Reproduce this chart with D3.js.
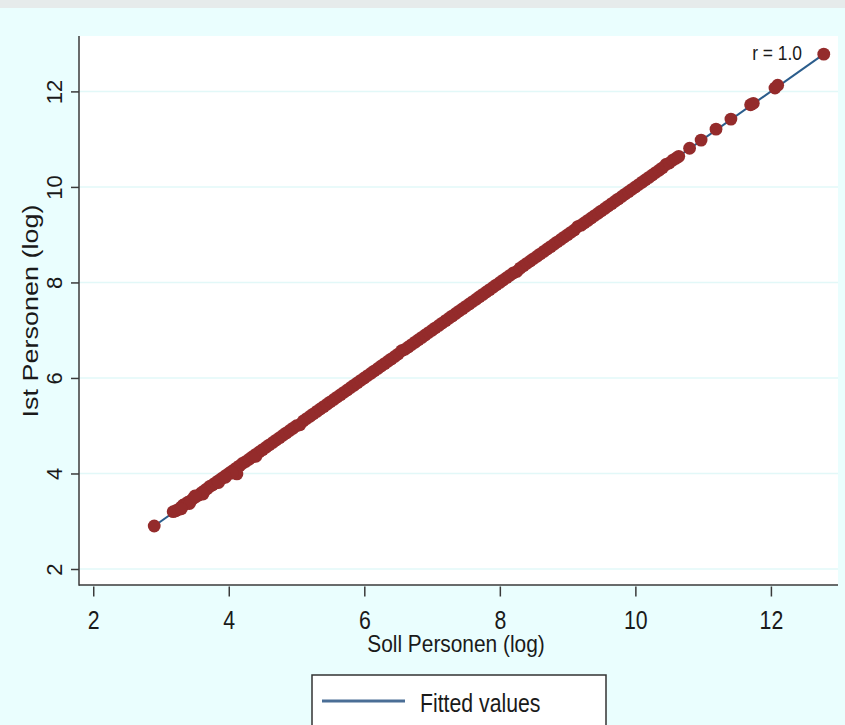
<!DOCTYPE html>
<html>
<head>
<meta charset="utf-8">
<script src="https://cdn.jsdelivr.net/npm/d3@7"></script>
<style>
  html, body { margin: 0; padding: 0; background: #eafefe; }
  svg { display: block; }
  text { font-family: "Liberation Sans", Arial, Helvetica, sans-serif; fill: #1a1a1a; }
</style>
</head>
<body>
<script>
// ---- data ----
const sollPersonen = [
  2.90,
  3.18, 3.22, 3.26, 3.30, 3.33, 3.36, 3.40, 3.44, 3.48, 3.52, 3.56, 3.60, 3.64, 3.68, 3.72, 3.76,
  3.80, 3.84, 3.88, 3.92, 3.96, 4.00, 4.04, 4.08, 4.12, 4.16, 4.20, 4.25, 4.30, 4.35, 4.40, 4.45,
  3.42, 3.62, 3.85, 4.12, 4.05, 4.40, 3.30, 3.50, 3.95,
  4.50, 4.55, 4.60, 4.65, 4.70, 4.75, 4.80, 4.85, 4.90, 4.95,
  5.00, 5.05, 5.10, 5.15, 5.20, 5.25, 5.30, 5.35, 5.40, 5.45,
  5.50, 5.55, 5.60, 5.65, 5.70, 5.75, 5.80, 5.85, 5.90, 5.95,
  6.00, 6.05, 6.10, 6.15, 6.20, 6.25, 6.30, 6.35, 6.40, 6.45,
  6.50, 6.55, 6.60, 6.65, 6.70, 6.75, 6.80, 6.85, 6.90, 6.95,
  7.00, 7.05, 7.10, 7.15, 7.20, 7.25, 7.30, 7.35, 7.40, 7.45,
  7.50, 7.55, 7.60, 7.65, 7.70, 7.75, 7.80, 7.85, 7.90, 7.95,
  8.00, 8.05, 8.10, 8.15, 8.20, 8.25, 8.30, 8.35, 8.40, 8.45,
  8.50, 8.55, 8.60, 8.65, 8.70, 8.75, 8.80, 8.85, 8.90, 8.95,
  9.00, 9.05, 9.10, 9.15, 9.20, 9.25, 9.30, 9.35, 9.40, 9.45,
  9.50, 9.55, 9.60, 9.65, 9.70, 9.75, 9.80, 9.85, 9.90, 9.95,
  10.00, 10.05, 10.10, 10.15, 10.20, 10.25, 10.30, 10.35, 10.40, 10.45,
  10.50, 10.55, 10.60, 10.64,
  10.80, 10.97, 11.19, 11.41, 11.70, 11.74, 12.06, 12.10, 12.78
];
const istPersonen = [
  2.90,
  3.20, 3.22, 3.25, 3.30, 3.34, 3.36, 3.40, 3.43, 3.48, 3.52, 3.55, 3.60, 3.64, 3.68, 3.73, 3.76,
  3.80, 3.84, 3.88, 3.92, 3.96, 4.00, 4.04, 4.08, 4.12, 4.16, 4.21, 4.25, 4.30, 4.35, 4.40, 4.45,
  3.37, 3.57, 3.81, 3.99, 4.01, 4.36, 3.26, 3.53, 3.92,
  4.50, 4.55, 4.60, 4.65, 4.70, 4.75, 4.80, 4.85, 4.90, 4.95,
  5.00, 5.02, 5.10, 5.15, 5.20, 5.25, 5.30, 5.35, 5.40, 5.45,
  5.50, 5.55, 5.60, 5.65, 5.70, 5.75, 5.80, 5.85, 5.90, 5.95,
  6.00, 6.05, 6.10, 6.15, 6.20, 6.25, 6.30, 6.35, 6.40, 6.45,
  6.50, 6.57, 6.60, 6.65, 6.70, 6.75, 6.80, 6.85, 6.90, 6.95,
  7.00, 7.05, 7.10, 7.15, 7.20, 7.25, 7.30, 7.35, 7.40, 7.45,
  7.50, 7.55, 7.60, 7.65, 7.70, 7.75, 7.80, 7.85, 7.90, 7.95,
  8.00, 8.05, 8.10, 8.15, 8.20, 8.23, 8.30, 8.35, 8.40, 8.45,
  8.50, 8.55, 8.60, 8.65, 8.70, 8.75, 8.80, 8.85, 8.90, 8.95,
  9.00, 9.05, 9.10, 9.17, 9.20, 9.25, 9.30, 9.35, 9.40, 9.45,
  9.50, 9.55, 9.60, 9.65, 9.70, 9.75, 9.80, 9.85, 9.90, 9.95,
  10.00, 10.05, 10.10, 10.15, 10.20, 10.25, 10.30, 10.35, 10.40, 10.47,
  10.50, 10.56, 10.60, 10.64,
  10.81, 10.98, 11.21, 11.42, 11.72, 11.75, 12.07, 12.13, 12.78
];
const fittedX = [2.90, 12.78];
const fittedY = [2.90, 12.78];
const xTicks = [2, 4, 6, 8, 10, 12];
const yTicks = [2, 4, 6, 8, 10, 12];
const xTitle = "Soll Personen (log)";
const yTitle = "Ist Personen (log)";
const legendLabel = "Fitted values";
const annotation = "r = 1.0";

// ---- layout ----
const W = 845, H = 725;
const plot = { left: 79, right: 838, top: 36, bottom: 585 };

const svg = d3.select("body").append("svg").attr("width", W).attr("height", H);

svg.append("rect").attr("x", 0).attr("y", 0).attr("width", W).attr("height", H).attr("fill", "#eafefe");
svg.append("rect").attr("x", 0).attr("y", 0).attr("width", W).attr("height", 8).attr("fill", "#e6ebeb");

const x = d3.scaleLinear().domain([1.79, 12.99]).range([plot.left, plot.right]);
const y = d3.scaleLinear().domain([1.665, 13.16]).range([plot.bottom, plot.top]);

// plot region
svg.append("rect")
  .attr("x", plot.left).attr("y", plot.top)
  .attr("width", plot.right - plot.left).attr("height", plot.bottom - plot.top)
  .attr("fill", "#ffffff");

// grid lines
svg.append("g").selectAll("line").data(yTicks).join("line")
  .attr("x1", plot.left).attr("x2", plot.right)
  .attr("y1", d => y(d)).attr("y2", d => y(d))
  .attr("stroke", "#e2f8f8").attr("stroke-width", 1.5);

// fitted line (under markers)
const lineData = fittedX.map((v, i) => [v, fittedY[i]]);
svg.append("path")
  .datum(lineData)
  .attr("d", d3.line().x(d => x(d[0])).y(d => y(d[1])))
  .attr("stroke", "#2b5d8c").attr("stroke-width", 2).attr("fill", "none");

// markers
const pts = sollPersonen.map((v, i) => [v, istPersonen[i]]);
svg.append("g").selectAll("circle").data(pts).join("circle")
  .attr("cx", d => x(d[0])).attr("cy", d => y(d[1]))
  .attr("r", 6.4)
  .attr("fill", "#942b2b");

// axes lines
svg.append("line").attr("x1", plot.left).attr("x2", plot.left)
  .attr("y1", plot.top).attr("y2", plot.bottom + 0.75)
  .attr("stroke", "#3a3a3a").attr("stroke-width", 1.5);
svg.append("line").attr("x1", plot.left).attr("x2", plot.right)
  .attr("y1", plot.bottom).attr("y2", plot.bottom)
  .attr("stroke", "#3a3a3a").attr("stroke-width", 1.5);

// x axis ticks + labels
const xAxis = d3.axisBottom(x).tickValues(xTicks).tickSize(10).tickSizeOuter(0).tickFormat(d3.format("d"));
const gx = svg.append("g").attr("transform", `translate(0,${plot.bottom + 1.5})`).call(xAxis);
gx.select(".domain").remove();
gx.selectAll(".tick line").attr("stroke", "#3a3a3a").attr("stroke-width", 1.5);
gx.selectAll(".tick text")
  .attr("y", null).attr("dy", null)
  .attr("transform", "translate(0,42) scale(0.82,1)")
  .attr("font-size", 26).attr("fill", "#1a1a1a")
  .attr("font-family", "'Liberation Sans', Arial, sans-serif");

// y axis ticks + labels
const yAxis = d3.axisLeft(y).tickValues(yTicks).tickSize(8).tickSizeOuter(0).tickFormat(d3.format("d"));
const gy = svg.append("g").attr("transform", `translate(${plot.left},0)`).call(yAxis);
gy.select(".domain").remove();
gy.selectAll(".tick line").attr("stroke", "#3a3a3a").attr("stroke-width", 1.5);
gy.selectAll(".tick text")
  .attr("x", null).attr("dy", null)
  .attr("text-anchor", "middle")
  .attr("transform", "translate(-17,0) rotate(-90)")
  .attr("font-size", 22).attr("fill", "#1a1a1a")
  .attr("font-family", "'Liberation Sans', Arial, sans-serif");

// axis titles
svg.append("text")
  .attr("transform", "translate(456,652) scale(0.87,1)")
  .attr("text-anchor", "middle").attr("font-size", 24)
  .text(xTitle);
svg.append("text")
  .attr("transform", "translate(38,311) scale(0.85,1) rotate(-90)")
  .attr("text-anchor", "middle").attr("font-size", 27)
  .text(yTitle);

// annotation
svg.append("text")
  .attr("transform", "translate(802,60) scale(0.87,1)")
  .attr("text-anchor", "end").attr("font-size", 20)
  .text(annotation);

// legend
svg.append("rect")
  .attr("x", 312).attr("y", 675).attr("width", 294).attr("height", 70)
  .attr("fill", "#ffffff").attr("stroke", "#333333").attr("stroke-width", 1.5);
svg.append("line")
  .attr("x1", 322).attr("x2", 405).attr("y1", 701).attr("y2", 701)
  .attr("stroke", "#4a6e96").attr("stroke-width", 3);
svg.append("text")
  .attr("transform", "translate(420,712) scale(0.85,1)")
  .attr("font-size", 25)
  .text(legendLabel);
</script>
</body>
</html>
